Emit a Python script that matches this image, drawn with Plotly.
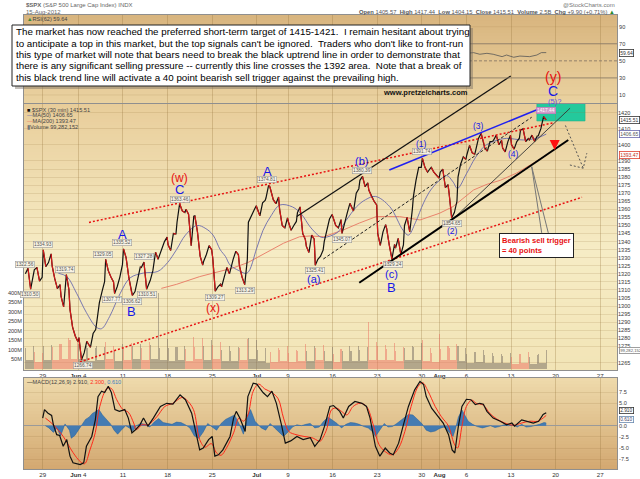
import plotly.graph_objects as go

# ---------------- values ----------------
sessions = ["May 24", "May 25", "May 29", "May 30", "May 31", "Jun 1",
            "Jun 4", "Jun 5", "Jun 6", "Jun 7", "Jun 8",
            "Jun 11", "Jun 12", "Jun 13", "Jun 14", "Jun 15",
            "Jun 18", "Jun 19", "Jun 20", "Jun 21", "Jun 22",
            "Jun 25", "Jun 26", "Jun 27", "Jun 28", "Jun 29",
            "Jul 2", "Jul 3", "Jul 5", "Jul 6",
            "Jul 9", "Jul 10", "Jul 11", "Jul 12", "Jul 13",
            "Jul 16", "Jul 17", "Jul 18", "Jul 19", "Jul 20",
            "Jul 23", "Jul 24", "Jul 25", "Jul 26", "Jul 27",
            "Jul 30", "Jul 31", "Aug 1", "Aug 2", "Aug 3",
            "Aug 6", "Aug 7", "Aug 8", "Aug 9", "Aug 10",
            "Aug 13", "Aug 14", "Aug 15", "Aug 16"]
half_sessions = ["Jul 3"]
future_sessions = ["Aug 17", "Aug 20", "Aug 21", "Aug 22", "Aug 23", "Aug 24",
                   "Aug 27", "Aug 28", "Aug 29", "Aug 30", "Aug 31"]

# $SPX 30 min: four readings per session (open, two swings, close)
price = [
    [1320.0, 1323.5, 1310.5, 1320.7],  # May 24
    [1322.5, 1324.0, 1315.5, 1317.8],
    [1334.9, 1324.5, 1327.0, 1332.4],  # May 29
    [1325.0, 1317.0, 1310.8, 1313.3],
    [1306.0, 1299.5, 1319.5, 1310.3],
    [1298.0, 1287.0, 1281.5, 1278.0],  # Jun 1
    [1280.5, 1266.8, 1271.0, 1278.2],  # Jun 4
    [1277.0, 1274.5, 1283.0, 1285.5],
    [1290.0, 1302.0, 1309.0, 1315.1],
    [1329.0, 1322.0, 1318.0, 1315.0],
    [1307.8, 1312.0, 1318.0, 1325.7],
    [1335.5, 1330.0, 1318.0, 1308.9],  # Jun 11
    [1306.6, 1309.0, 1316.0, 1324.2],
    [1324.0, 1327.3, 1310.5, 1314.9],
    [1316.0, 1322.0, 1333.5, 1329.1],
    [1331.0, 1336.0, 1340.0, 1342.8],
    [1338.0, 1334.5, 1345.0, 1344.8],  # Jun 18
    [1352.0, 1363.5, 1359.0, 1358.0],
    [1360.0, 1357.0, 1337.5, 1355.7],
    [1356.0, 1346.0, 1331.0, 1325.5],
    [1328.0, 1332.0, 1337.5, 1335.0],
    [1330.0, 1309.3, 1312.0, 1313.7],  # Jun 25
    [1312.0, 1318.0, 1324.0, 1320.0],
    [1323.0, 1329.0, 1334.0, 1331.9],
    [1325.0, 1318.0, 1313.3, 1329.0],
    [1352.0, 1356.0, 1359.0, 1362.2],
    [1360.0, 1356.0, 1364.0, 1365.5],  # Jul 2
    [1367.0, 1371.0, 1374.8, 1374.0],
    [1372.0, 1366.0, 1363.5, 1367.6],
    [1360.0, 1350.0, 1348.5, 1354.7],
    [1352.0, 1347.0, 1350.0, 1352.5],  # Jul 9
    [1358.0, 1361.5, 1345.0, 1341.5],
    [1337.0, 1333.3, 1344.0, 1341.5],
    [1325.4, 1329.0, 1331.0, 1334.8],
    [1340.0, 1348.0, 1354.0, 1356.8],
    [1355.0, 1350.0, 1348.5, 1353.6],  # Jul 16
    [1345.1, 1352.0, 1358.0, 1363.7],
    [1362.0, 1359.0, 1370.0, 1372.8],
    [1378.0, 1380.4, 1374.0, 1376.5],
    [1372.0, 1368.0, 1365.0, 1362.7],
    [1345.0, 1337.6, 1346.0, 1350.5],  # Jul 23
    [1348.0, 1338.0, 1329.2, 1338.3],
    [1336.0, 1342.0, 1332.0, 1337.9],
    [1350.0, 1355.0, 1346.0, 1360.0],
    [1368.0, 1378.0, 1386.0, 1386.0],
    [1391.7, 1386.0, 1383.0, 1385.3],  # Jul 30
    [1386.0, 1383.0, 1381.0, 1379.3],
    [1383.0, 1385.0, 1373.4, 1375.3],
    [1370.0, 1354.7, 1358.0, 1365.0],
    [1380.0, 1388.0, 1392.5, 1391.0],
    [1394.0, 1399.6, 1395.0, 1394.2],  # Aug 6
    [1397.0, 1404.0, 1407.1, 1401.4],
    [1398.0, 1396.1, 1402.0, 1402.2],
    [1403.0, 1406.0, 1400.0, 1402.8],
    [1398.0, 1395.6, 1402.0, 1405.9],
    [1400.0, 1397.3, 1402.0, 1404.1],  # Aug 13
    [1409.0, 1410.0, 1402.0, 1403.9],
    [1403.0, 1406.0, 1402.0, 1405.5],
    [1405.6, 1410.0, 1417.4, 1415.51],
]

# volume in millions: opening bar, midday bars, closing bar
volume = [
    [110, 45, 120], [90, 35, 85], [120, 45, 125], [115, 45, 130], [130, 55, 165],
    [150, 55, 140], [130, 50, 120], [110, 40, 110], [120, 45, 115], [140, 50, 120],
    [100, 40, 130], [110, 45, 135], [120, 50, 130], [110, 45, 140], [125, 50, 400],
    [110, 45, 160], [110, 40, 115], [115, 45, 120], [105, 40, 170], [115, 50, 165],
    [120, 45, 150], [125, 50, 140], [100, 40, 120], [95, 40, 115], [110, 45, 160],
    [165, 55, 150], [100, 40, 110], [70, 30, 60], [90, 35, 110], [100, 40, 120],
    [85, 35, 100], [95, 40, 130], [95, 40, 120], [110, 45, 125], [95, 40, 115],
    [80, 35, 105], [95, 40, 120], [95, 40, 120], [100, 40, 115], [245, 45, 140],
    [120, 45, 125], [105, 45, 135], [95, 40, 115], [110, 45, 120], [115, 45, 135],
    [150, 40, 110], [85, 35, 185], [105, 45, 120], [110, 45, 130], [120, 40, 110],
    [80, 30, 90], [90, 35, 100], [75, 30, 85], [70, 30, 80], [70, 30, 85],
    [65, 28, 80], [80, 30, 90], [65, 25, 75], [80, 30, 99.282152],
]

# (trading day, value) readings for the indicator lines
ma50 = [(1.75, 1320.4), (2.7, 1318.3), (3.8, 1308.0), (4.9, 1296.0), (6.0, 1287.0),
        (6.6, 1286.0), (7.5, 1293.5), (8.7, 1308.0), (9.8, 1317.5), (11.3, 1320.5),
        (12.9, 1321.5), (14.0, 1327.0), (15.0, 1335.0), (16.0, 1344.0), (17.3, 1350.0),
        (18.3, 1348.0), (19.1, 1344.0), (19.9, 1335.0), (20.5, 1330.7), (21.0, 1325.5),
        (22.0, 1322.0), (22.9, 1320.4), (24.0, 1336.0), (24.7, 1347.0), (25.6, 1356.0),
        (26.6, 1362.7), (28.0, 1361.5), (29.0, 1357.0), (30.0, 1349.0), (31.1, 1343.0),
        (31.5, 1342.5), (33.0, 1345.5), (34.0, 1353.0), (35.2, 1361.7), (36.2, 1366.0),
        (37.3, 1368.0), (38.9, 1361.7), (40.4, 1347.0), (41.0, 1344.0), (41.8, 1352.0),
        (42.7, 1364.0), (43.5, 1372.0), (44.5, 1378.0), (45.3, 1381.0), (46.0, 1377.0),
        (46.5, 1373.0), (47.5, 1382.0), (48.5, 1392.0), (49.5, 1399.0), (50.1, 1401.0),
        (51.0, 1403.0), (52.0, 1404.0), (53.9, 1403.0), (55.4, 1404.2), (56.45, 1406.65)]
ma200 = [(13.3, 1311.0), (15.0, 1313.5), (17.6, 1318.3), (19.5, 1321.0), (21.3, 1323.6),
         (23.0, 1327.0), (25.0, 1333.0), (27.0, 1339.0), (28.8, 1343.0), (30.0, 1343.5),
         (31.5, 1343.0), (33.7, 1347.2), (35.5, 1351.5), (37.4, 1355.5), (40.0, 1355.5),
         (42.3, 1353.4), (44.5, 1357.6), (46.0, 1361.7), (48.3, 1372.0), (49.8, 1375.5),
         (51.3, 1378.0), (53.1, 1382.4), (55.0, 1388.6), (56.45, 1393.47)]
rsi = [(40.0, 52.0), (42.5, 58.0), (44.0, 56.0), (45.0, 54.5), (46.0, 59.6), (46.8, 60.7),
       (47.5, 58.8), (48.3, 59.6), (49.0, 57.7), (49.8, 58.8), (50.5, 57.7), (51.5, 54.9),
       (52.0, 56.8), (52.8, 54.2), (53.5, 55.6), (54.6, 54.9), (55.4, 56.8), (55.9, 59.6),
       (56.45, 59.64)]
macd = [(0, 1.7), (0.2, 3.6), (0.6, 2.8), (1.0, 2.3), (1.2, 0.2), (1.57, -2.0), (1.9, -2.2),
        (2.3, -4.6), (2.7, -3.1), (3.06, -6.8), (3.4, -8.3), (4.2, -8.7), (4.6, -8.3),
        (4.9, -4.6), (5.5, -2.4), (5.9, 1.3), (6.2, 6.5), (6.6, 7.7), (6.95, 7.4), (7.35, 8.8),
        (7.7, 7.4), (8.1, 3.6), (8.6, 3.2), (9.2, 3.6), (9.6, 1.7), (10.0, -1.6), (10.4, -0.9),
        (10.9, 0.2), (11.3, 1.7), (11.8, -0.1), (12.4, 1.7), (13.2, 4.3), (13.9, 5.0),
        (14.6, 4.8), (15.4, 6.9), (16.0, 5.8), (16.7, 2.8), (17.3, -2.4), (17.6, -5.4),
        (18.0, -5.0), (18.6, -3.1), (19.0, -2.4), (19.3, -6.8), (19.7, -6.5), (20.2, -5.4),
        (21.0, -2.4), (21.4, 1.7), (21.7, 3.2), (22.1, 1.7), (22.7, -1.3), (23.0, 6.5),
        (23.6, 9.5), (24.0, 9.3), (24.7, 7.4), (25.2, 6.5), (25.7, 7.7), (26.2, 5.0),
        (26.8, -0.1), (27.2, -3.9), (27.8, -3.4), (28.5, -2.4), (29.2, -3.1), (30.0, -2.7),
        (30.5, -4.6), (31.1, -3.1), (31.6, -0.1), (32.2, 4.3), (32.6, 4.5), (33.3, 3.2),
        (33.7, 1.7), (34.3, 4.3), (35.0, 5.4), (35.8, 5.0), (36.3, 4.3), (36.7, 1.7),
        (37.3, -4.6), (37.8, -6.8), (38.4, -5.0), (38.9, -6.1), (39.3, -6.5), (39.9, -3.9),
        (40.4, -0.1), (41.0, 4.3), (41.7, 8.0), (42.3, 9.9), (42.7, 9.2), (43.0, 6.5),
        (43.6, 3.9), (44.4, 1.7), (44.9, 0.6), (45.5, -2.0), (45.9, -5.4), (46.2, -6.1),
        (46.6, -0.1), (47.0, 4.3), (47.5, 5.9), (48.0, 5.8), (48.5, 4.7), (49.0, 5.0),
        (49.4, 4.8), (49.8, 3.2), (50.5, 1.7), (51.3, 1.0), (52.0, 0.2), (52.6, 0.6),
        (52.9, -0.1), (53.7, 1.3), (54.3, 1.0), (55.0, 0.6), (55.6, 1.0), (56.1, 2.5),
        (56.45, 2.91)]
macd_signal = [(0.3, 1.7), (1.2, 0.2), (2.3, -2.4), (3.4, -6.0), (4.2, -8.0), (4.7, -8.5),
               (5.3, -5.4), (5.9, -1.5), (6.4, 4.3), (7.2, 8.3), (7.7, 8.3), (8.3, 5.8),
               (9.0, 3.6), (9.6, 3.0), (10.2, 0.6), (10.5, -0.9), (11.1, 0.2), (11.8, 0.2),
               (12.8, 2.0), (13.7, 4.3), (14.6, 5.0), (15.6, 6.3), (16.1, 5.8), (16.9, 3.6),
               (17.6, -3.1), (18.2, -4.8), (18.9, -4.0), (19.5, -6.1), (20.0, -6.6),
               (20.6, -5.0), (21.4, -1.6), (22.0, 1.7), (22.5, 1.0), (23.0, 2.4), (23.6, 7.7),
               (24.2, 9.3), (24.9, 8.2), (25.7, 7.4), (26.4, 6.0), (27.0, 1.7), (27.6, -1.3),
               (28.4, -2.0), (29.3, -2.4), (30.2, -2.7), (30.9, -3.4), (31.1, -3.5),
               (31.8, -1.0), (32.4, 3.6), (33.0, 3.9), (33.5, 3.2), (34.1, 2.4), (34.8, 4.3),
               (35.6, 5.0), (36.3, 4.3), (37.1, -0.1), (37.7, -4.2), (38.4, -5.8),
               (39.2, -6.5), (39.9, -5.0), (40.6, -1.3), (41.3, 4.3), (42.1, 8.8),
               (42.6, 9.6), (43.2, 7.7), (44.0, 4.3), (44.7, 2.0), (45.5, -0.1),
               (46.1, -3.9), (46.5, -5.0), (47.0, -0.1), (47.5, 4.3), (48.1, 5.7),
               (48.6, 5.0), (49.4, 4.6), (50.1, 2.8), (50.9, 1.5), (51.8, 0.6), (52.8, 0.1),
               (53.7, 0.6), (54.6, 1.0), (55.5, 1.0), (56.45, 2.3)]
macd_hist = [(0.3, 0.0), (0.7, -0.5), (1.2, -1.5), (1.6, -0.5), (2.0, -2.3), (2.5, 0.4),
             (3.0, -1.0), (3.2, -2.8), (3.6, -2.2), (4.0, -1.0), (4.5, 0.4), (4.8, 1.4),
             (5.2, 1.9), (5.6, 2.8), (6.0, 3.2), (6.3, 3.6), (6.7, 2.4), (7.2, 1.3),
             (7.6, 0.4), (8.0, -1.0), (8.4, -1.9), (8.8, -1.0), (9.3, 0.0), (9.7, -0.5),
             (10.1, -1.2), (10.5, 0.0), (11.0, 0.5), (11.5, 0.3), (12.0, -0.3), (12.5, 0.8),
             (13.0, 1.6), (13.5, 0.7), (14.0, 0.5), (14.5, 0.3), (15.0, 0.8), (15.5, 0.7),
             (16.0, 0.2), (16.5, -0.5), (17.0, -2.3), (17.5, -2.8), (18.0, -1.4), (18.5, 0.5),
             (19.0, -0.3), (19.5, -1.0), (20.0, 0.5), (20.5, 1.4), (21.0, 1.9), (21.5, 2.4),
             (22.0, 0.5), (22.5, -1.9), (23.0, 2.4), (23.3, 3.6), (23.8, 1.0), (24.5, -0.5),
             (25.0, -1.0), (25.5, 0.5), (26.0, -0.5), (26.5, -1.4), (27.0, -2.4),
             (27.5, -1.4), (28.0, -0.3), (28.5, 0.2), (29.0, 0.0), (29.5, 0.3), (30.0, 0.5),
             (30.5, -0.5), (31.0, -0.3), (31.5, 1.0), (32.0, 1.9), (32.5, 1.2), (33.0, 0.5),
             (33.5, -0.5), (34.0, 0.3), (34.5, 0.7), (35.0, 0.6), (35.5, 0.3), (36.0, -0.2),
             (36.5, -0.5), (37.0, -1.4), (37.3, -2.4), (37.8, -0.8), (38.3, 0.5),
             (38.7, -0.3), (39.2, -0.2), (39.7, 0.5), (40.2, 1.2), (40.6, 1.9), (41.0, 2.5),
             (41.5, 2.4), (42.0, 1.4), (42.5, 0.5), (43.0, -1.0), (43.5, -1.4), (44.0, -1.2),
             (44.5, -0.6), (45.0, -0.3), (45.5, -1.4), (46.0, -2.4), (46.3, -0.5),
             (46.6, 1.9), (47.0, 3.5), (47.3, 2.4), (47.7, 1.0), (48.2, 0.3), (48.7, -0.2),
             (49.3, -0.5), (49.8, -0.3), (50.2, 0.0), (50.7, -0.4), (51.2, -0.2), (51.7, 0.2),
             (52.2, 0.0), (52.7, 0.2), (53.2, -0.3), (53.7, 0.3), (54.2, -0.3), (54.7, -0.2),
             (55.2, 0.0), (55.7, 0.3), (56.2, 0.7), (56.45, 0.61)]

tick_dates = ["May 29", "Jun 4", "Jun 11", "Jun 18", "Jun 25", "Jul 2", "Jul 9", "Jul 16",
              "Jul 23", "Jul 30", "Aug 1", "Aug 6", "Aug 13", "Aug 20", "Aug 27"]
tick_text = ["29", "<b>Jun</b> 4", "11", "18", "25", "<b>Jul</b>", "9", "16", "23", "30",
             "<b>Aug</b>", "6", "13", "20", "27"]
# price ticks every 5 points; the ones under the last-value boxes are left out
price_ticks = [p for p in range(1265, 1421, 5) if p not in (1270, 1395, 1405, 1415)]
rsi_ticks = [10, 30, 50, 70, 90]
macd_ticks = [-7.5, -5.0, -2.5, 0.0, 5.0, 7.5]
vol_ticks = [50, 100, 150, 200, 250, 300, 350, 400]

# hand-drawn lines, (trading day, price)
red_upper = [(5.19, 1351.9), (57.2, 1413.6)]
red_lower = [(4.18, 1265.4), (60.46, 1367.5)]
black_upper = [(28.48, 1355.5), (52.47, 1442.7)]
black_dashed = [(31.46, 1329.2), (54.82, 1417.1)]
uptrend = [(35.49, 1314.5), (58.92, 1403.0)]
blue_line = [(38.86, 1384.4), (55.75, 1422.5)]
grey_line = [(45.66, 1352.2), (59.12, 1422.7)]
projection = [(58.6, 1412.0), (60.6, 1385.5)]
projection_head = [(59.1, 1387.5), (60.6, 1385.5), (61.0, 1394.8)]
callout_a = [(54.82, 1386.5), (55.94, 1345.4)]
callout_b = [(54.82, 1386.5), (56.68, 1345.4)]
sell_arrow = (57.4, 1396.8)
target_zone = [(55.4, 1414.8), (60.8, 1426.0)]

wave_big = [("C", 15.39, 1372.6), ("A", 8.89, 1344.3), ("B", 9.9, 1296.6),
            ("A", 25.15, 1383.6), ("B", 39.13, 1311.6)]
wave_red = [("(w)", 15.39, 1379.2), ("(x)", 19.09, 1298.6)]
wave_mid = [("(a)", 30.41, 1316.9), ("(b)", 35.76, 1389.9), ("(c)", 39.05, 1320.2)]
wave_small = [("(1)", 42.49, 1400.2), ("(2)", 45.96, 1346.6), ("(3)", 48.83, 1411.7),
              ("(4)", 52.76, 1394.1)]
wave_top = [("(y)", 57.24, 1442.2, "red"), ("C", 57.24, 1433.4, "blue"),
            ("(5)?", 57.43, 1427.0, "small")]

price_labels = [("1322.56", -1.98, 1325.5), ("1310.50", -1.42, 1307.5), ("1334.93", 0.0, 1338.5),
                ("1319.74", 2.5, 1323.0), ("1266.74", 4.48, 1263.1), ("1329.05", 6.79, 1332.3),
                ("1307.77", 7.74, 1303.8), ("1335.52", 8.86, 1339.2), ("1306.62", 9.98, 1302.8),
                ("1327.28", 11.36, 1330.7), ("1310.51", 11.66, 1306.9), ("1363.46", 15.39, 1366.2),
                ("1309.27", 19.32, 1305.5), ("1313.29", 22.68, 1309.6), ("1374.81", 25.2, 1378.4),
                ("1325.41", 30.53, 1322.0), ("1345.07", 33.52, 1341.6), ("1380.39", 35.76, 1383.8),
                ("1329.24", 39.3, 1326.1), ("1391.74", 42.49, 1395.8), ("1354.65", 45.85, 1351.4)]
high_label = ("1417.44", 56.42, 1421.2)

note_lines = [
    "The market has now reached the preferred short-term target of 1415-1421.\u00a0 I remain hesitant about trying",
    "to anticipate a top in this market, but the top signals can't be ignored.\u00a0 Traders who don't like to front-run",
    "this type of market will note that bears need to break the black uptrend line in order to demonstrate that",
    "there is any significant selling pressure -- currently this line crosses the 1392 area.\u00a0 Note that a break of",
    "this black trend line will activate a 40 point bearish sell trigger against the prevailing high.",
]

# ---------------- geometry ----------------
W, H = 640, 479
ML, MR, MT, MB = 24, 23, 15, 10


def fx(px):
    return (px - ML) / (W - ML - MR)


def fy(py):
    return (H - MB - py) / (H - MT - MB)


X_RANGE = [-2.096, 64.383]
RSI_DOM = [fy(103), fy(15)]
MAIN_DOM = [fy(370), fy(104)]
MACD_DOM = [fy(469), fy(378)]
RSI_RANGE = [0.6, 103.7]
P_RANGE = [1260.4, 1425.3]
VOL_RANGE = [-5.3e6, 1.394e9]
MACD_RANGE = [-9.67, 10.65]
k = (P_RANGE[1] - P_RANGE[0]) / (MAIN_DOM[1] - MAIN_DOM[0])
OV_RANGE = [P_RANGE[0] - k * MAIN_DOM[0], P_RANGE[0] - k * MAIN_DOM[0] + k]

BLUE = "#1717e8"
RED = "#e81010"
FRAME = "#8f8f8f"
VGRID = "rgba(150,115,60,0.30)"
HGRID = "rgba(150,115,60,0.17)"
FONT = "Liberation Sans, Arial, sans-serif"

# session start on a trading-day axis (May 29 = 0)
start, length = {}, {}
t = -2.0
for s in sessions + future_sessions:
    length[s] = 0.5 if s in half_sessions else 1.0
    start[s] = t
    t += length[s]

steps = [0.06, 0.35, 0.65, 0.94]
pt, pv = [], []
for s, row in zip(sessions, price):
    for f, v in zip(steps, row):
        pt.append(start[s] + f * length[s])
        pv.append(v)

down_x, down_y = [], []
for i in range(len(pv) - 1):
    if pv[i + 1] < pv[i]:
        down_x += [pt[i], pt[i + 1], None]
        down_y += [pv[i], pv[i + 1], None]

vx, vw, vy, vc = [], [], [], []
for n, (s, row) in enumerate(zip(sessions, volume)):
    prev = price[n - 1][3] if n else price[0][0]
    col = "rgba(115,105,95,0.5)" if price[n][3] >= prev else "rgba(235,110,95,0.5)"
    for (a, b), v in zip([(0, 0.12), (0.12, 0.88), (0.88, 1.0)], row):
        vx.append(start[s] + length[s] * (a + b) / 2)
        vw.append(length[s] * (b - a))
        vy.append(v * 1e6)
        vc.append(col)


def xs(pairs):
    return [p[0] for p in pairs]


def ys(pairs):
    return [p[1] for p in pairs]


fig = go.Figure()

fig.add_trace(go.Bar(x=vx, y=vy, width=vw, marker=dict(color=vc, line_width=0),
                     xaxis="x2", yaxis="y2", hoverinfo="skip"))
fig.add_trace(go.Scatter(x=xs(ma200), y=ys(ma200), mode="lines",
                         line=dict(color="#e87763", width=0.9), xaxis="x2", yaxis="y3"))
fig.add_trace(go.Scatter(x=xs(ma50), y=ys(ma50), mode="lines", line_shape="spline",
                         line=dict(color="#6a6aae", width=0.9), xaxis="x2", yaxis="y3"))
fig.add_trace(go.Scatter(x=pt, y=pv, mode="lines", line=dict(color="#111", width=1.2),
                         xaxis="x2", yaxis="y3"))
fig.add_trace(go.Scatter(x=down_x, y=down_y, mode="lines", line=dict(color="#d81818", width=1.2),
                         xaxis="x2", yaxis="y3"))

fig.add_trace(go.Scatter(x=xs(rsi), y=ys(rsi), mode="lines", line=dict(color="#555", width=0.8),
                         xaxis="x", yaxis="y"))

fig.add_trace(go.Scatter(x=xs(macd_hist), y=ys(macd_hist), mode="lines", fill="tozeroy",
                         fillcolor="rgba(40,110,185,0.85)", line=dict(color="#1d5c9c", width=0.5),
                         xaxis="x3", yaxis="y4"))
fig.add_trace(go.Scatter(x=xs(macd_signal), y=ys(macd_signal), mode="lines", line_shape="spline",
                         line=dict(color="#ff2a1a", width=1), xaxis="x3", yaxis="y4"))
fig.add_trace(go.Scatter(x=xs(macd), y=ys(macd), mode="lines", line=dict(color="#111", width=1.2),
                         xaxis="x3", yaxis="y4"))

# hand-drawn lines go on a full-height overlay that shares the price scale
overlay = [(red_upper, RED, 1.5, "2px,2px"), (red_lower, RED, 1.5, "2px,2px"),
           (black_upper, "#111", 1.2, "solid"), (black_dashed, "#222", 1.0, "3px,2px"),
           (grey_line, "#333", 0.9, "solid"), (uptrend, "#000", 2.0, "solid"),
           (blue_line, "#2020f0", 1.6, "solid"), (projection, "#555", 1.0, "2px,2px"),
           (projection_head, "#555", 1.0, "2px,2px"), (callout_a, "#777", 1.0, "solid"),
           (callout_b, "#777", 1.0, "solid")]
for pts, col, wid, dash in overlay:
    fig.add_trace(go.Scatter(x=xs(pts), y=ys(pts), mode="lines",
                             line=dict(color=col, width=wid, dash=dash), xaxis="x4", yaxis="y5"))
fig.add_trace(go.Scatter(x=[sell_arrow[0]], y=[sell_arrow[1]], mode="markers",
                         marker=dict(symbol="arrow-down", size=10, color="#ff1010"),
                         xaxis="x4", yaxis="y5"))


# ---------------- backgrounds ----------------
def bands(top, bottom, stops, step=3):
    out = []
    y = top
    while y < bottom:
        y2 = min(y + step, bottom)
        f = ((y + y2) / 2 - top) / (bottom - top)
        c = stops[-1][1]
        for (f0, c0), (f1, c1) in zip(stops, stops[1:]):
            if f0 <= f <= f1:
                r = (f - f0) / (f1 - f0)
                c = tuple(round(a + (b - a) * r) for a, b in zip(c0, c1))
                break
        out.append(dict(type="rect", xref="paper", yref="paper", x0=0, x1=1,
                        y0=fy(min(y2 + 0.6, bottom)), y1=fy(y), layer="below",
                        fillcolor="rgb(%d,%d,%d)" % c, line_width=0))
        y = y2
    return out


shapes = []
shapes += bands(15, 103, [(0, (216, 180, 126)), (1, (234, 210, 160))])
shapes += bands(104, 370, [(0, (232, 205, 154)), (0.55, (246, 236, 197)), (1, (242, 228, 182))])
shapes += bands(378, 469, [(0, (238, 218, 172)), (1, (211, 168, 112))])

shapes.append(dict(type="rect", xref="x2", yref="y3", layer="below",
                   x0=target_zone[0][0], x1=target_zone[1][0],
                   y0=target_zone[0][1], y1=target_zone[1][1],
                   fillcolor="#24c99c", line=dict(color="#1fb48b", width=0.6)))
for lvl, dash in [(70, "solid"), (30, "solid"), (50, "3px,2px")]:
    shapes.append(dict(type="line", xref="paper", yref="y", x0=0, x1=1, y0=lvl, y1=lvl,
                       line=dict(color="#8a7a66", width=0.9, dash=dash)))
for lvl in [90, 10]:
    shapes.append(dict(type="line", xref="paper", yref="y", x0=0, x1=1, y0=lvl, y1=lvl,
                       line=dict(color=HGRID, width=0.8)))

# note box with a soft shadow
shapes.append(dict(type="rect", xref="paper", yref="paper", layer="above",
                   x0=fx(15), x1=fx(473), y0=fy(89), y1=fy(28),
                   fillcolor="rgba(120,110,100,0.45)", line_width=0))
shapes.append(dict(type="rect", xref="paper", yref="paper", layer="above",
                   x0=fx(12), x1=fx(470), y0=fy(86), y1=fy(25),
                   fillcolor="white", line=dict(color="#222", width=1)))

ann = []


def text(x, y, s, size=6, color="#444", xanchor="left", xref="paper", yref="paper", **kw):
    ann.append(dict(x=x, y=y, xref=xref, yref=yref, text=s, showarrow=False,
                    xanchor=xanchor, yanchor=kw.pop("yanchor", "middle"),
                    font=dict(size=size, color=color, family=kw.pop("family", FONT)), **kw))


for i, line in enumerate(note_lines):
    text(fx(14), fy(31.7 + 11.4 * i), line, size=9.75, color="#000")

# header
text(fx(24), fy(4.5), "<b>$SPX</b> (S&amp;P 500 Large Cap Index) INDX", size=6, color="#666")
text(fx(24), fy(11.7), "15-Aug-2012", size=6, color="#666")
text(fx(617), fy(4.5), "@StockCharts.com", size=6, color="#777", xanchor="right")
text(fx(617), fy(11.7), "<b>Open</b> 1405.57  <b>High</b> 1417.44  <b>Low</b> 1404.15  "
     "<b>Close</b> 1415.51  <b>Volume</b> 2.5B  <b>Chg</b> +9.90 (+0.71%) <span style=\"color:#2a8a2a\">▲</span>",
     size=5.8, color="#555", xanchor="right")

# panel legends
text(fx(25), fy(19), "<span style=\"color:#3a8a3a\">▲</span>RSI(62) %.2f" % rsi[-1][1], size=5.6)
text(fx(25), fy(109.5), "<span style=\"color:#111\">■</span> $SPX (30 min) %.2f" % price[-1][3], size=5.6)
text(fx(25), fy(115.3), "<span style=\"color:#6a6aae\">—</span>MA(50) %.2f" % ma50[-1][1], size=5.6)
text(fx(25), fy(121.1), "<span style=\"color:#e87763\">—</span>MA(200) %.2f" % ma200[-1][1], size=5.6)
text(fx(25), fy(126.9), "<span style=\"color:#777\">▮</span>Volume {:,.0f}".format(volume[-1][2] * 1e6), size=5.6)
text(fx(25), fy(381.7), "<span style=\"color:#111\">—</span>MACD(12,26,9) %.3f, "
     "<span style=\"color:#ff2a1a\">%.3f</span>, <span style=\"color:#3a7fc0\">%.3f</span>"
     % (macd[-1][1], macd_signal[-1][1], macd_hist[-1][1]), size=5.6)

# last-value boxes on the right axis
boxes = [(rsi[-1][1], "y", "%.2f" % rsi[-1][1], "#333", "#333", 5.0),
         (price[-1][3], "y3", "%.2f" % price[-1][3], "#333", "#333", 5.0),
         (ma50[-1][1], "y3", "%.2f" % ma50[-1][1], "#6a6aae", "#555", 5.0),
         (ma200[-1][1], "y3", "%.2f" % ma200[-1][1], "#e04030", "#c03020", 5.0),
         (volume[-1][2] * 1e6, "y2", "{:,.0f}".format(volume[-1][2] * 1e6), "#888", "#555", 4.2),
         (macd[-1][1] + 0.4, "y4", "%.3f" % macd[-1][1], "#333", "#333", 4.8),
         (macd_hist[-1][1] + 0.8, "y4", "%.3f" % macd_hist[-1][1], "#6a8ab0", "#446", 4.8)]
for val, yref, s, bcol, tcol, sz in boxes:
    text(fx(618.5), val, s, size=sz, color=tcol, yref=yref, bgcolor="white",
         bordercolor=bcol, borderwidth=0.8, borderpad=0.4)

# swing labels
for s, d, p in price_labels:
    text(d, p, s, size=4.8, color="#555", xanchor="center", xref="x4", yref="y5",
         bgcolor="rgba(248,244,232,0.9)", bordercolor="#9a9a9a", borderwidth=0.6, borderpad=0.4)
text(high_label[1], high_label[2], high_label[0], size=4.8, color="#fff", xanchor="center",
     xref="x4", yref="y5", bgcolor="rgba(238,150,210,0.85)", bordercolor="#d070c0",
     borderwidth=0.6, borderpad=0.4)

# wave counts
for s, d, p in wave_big:
    text(d, p, s, size=13, color=BLUE, xanchor="center", xref="x4", yref="y5", family="Arial, " + FONT)
for s, d, p in wave_red:
    text(d, p, s, size=12, color=RED, xanchor="center", xref="x4", yref="y5", family="Arial, " + FONT)
for s, d, p in wave_mid:
    text(d, p, s, size=11, color=BLUE, xanchor="center", xref="x4", yref="y5", family="Arial, " + FONT)
for s, d, p in wave_small:
    text(d, p, s, size=8.5, color=BLUE, xanchor="center", xref="x4", yref="y5", family="Arial, " + FONT)
top_style = {"red": (14, RED), "blue": (14, BLUE), "small": (7.5, "#5a50e8")}
for s, d, p, kind in wave_top:
    sz, col = top_style[kind]
    text(d, p, s, size=sz, color=col, xanchor="center", xref="x4", yref="y5", family="Arial, " + FONT)

text(42.97, 1432.2, "<b>www.pretzelcharts.com</b>", size=7.5, color="#111", xanchor="center",
     xref="x4", yref="y5")
text(51.2, 1345.4, "<b>Bearish sell trigger<br>= 40 points</b>", size=7.6, color=RED,
     xref="x4", yref="y5", yanchor="top", align="left", bgcolor="white",
     bordercolor="#222", borderwidth=1, borderpad=2)

tickx = [start[d] for d in tick_dates]
TICKFONT = dict(size=5.6, color="#3a3a3a", family=FONT)
xcommon = dict(domain=[0, 1], range=X_RANGE, tickvals=tickx, showgrid=True, gridcolor=VGRID,
               gridwidth=1, zeroline=False, showline=True, mirror=True, linecolor=FRAME,
               linewidth=1, ticks="", ticklen=0, tickfont=dict(size=6.2, color="#333", family=FONT))

fig.update_layout(
    width=W, height=H, margin=dict(l=ML, r=MR, t=MT, b=MB, autoexpand=False),
    paper_bgcolor="white", plot_bgcolor="rgba(0,0,0,0)", showlegend=False,
    font=dict(family=FONT, size=6, color="#333"), bargap=0,
    xaxis=dict(xcommon, anchor="y", showticklabels=False),
    yaxis=dict(domain=RSI_DOM, range=RSI_RANGE, anchor="x", side="right", tickvals=rsi_ticks,
               showgrid=False, zeroline=False, showline=True, mirror=True, linecolor=FRAME,
               ticks="", ticklen=0, tickfont=TICKFONT),
    xaxis2=dict(xcommon, anchor="y2", ticktext=tick_text),
    yaxis2=dict(domain=MAIN_DOM, range=VOL_RANGE, anchor="x2", side="left",
                tickvals=[v * 1e6 for v in vol_ticks], ticktext=["%dM" % v for v in vol_ticks],
                showgrid=False, zeroline=False, showline=True, mirror=True, linecolor=FRAME,
                ticks="", ticklen=0, tickfont=TICKFONT),
    yaxis3=dict(overlaying="y2", anchor="x2", side="right", range=P_RANGE, tickvals=price_ticks,
                showgrid=True, gridcolor=HGRID, zeroline=False, ticks="", ticklen=0,
                tickfont=TICKFONT),
    xaxis3=dict(xcommon, anchor="y4", ticktext=tick_text),
    yaxis4=dict(domain=MACD_DOM, range=MACD_RANGE, anchor="x3", side="right", tickvals=macd_ticks,
                ticktext=["%.1f" % v for v in macd_ticks], showgrid=True, gridcolor=HGRID,
                zeroline=True, zerolinecolor="#9a9a9a", zerolinewidth=1, showline=True,
                mirror=True, linecolor=FRAME, ticks="", ticklen=0, tickfont=TICKFONT),
    xaxis4=dict(domain=[0, 1], range=X_RANGE, anchor="y5", visible=False),
    yaxis5=dict(domain=[0, 1], range=OV_RANGE, anchor="x4", visible=False),
    shapes=shapes, annotations=ann,
)

# the page is photographed at exactly the figure size, so drop the body margin
fig.write_html("out.html", config={"displayModeBar": False},
               post_script="document.body.style.margin='0';document.body.style.overflow='hidden';")
